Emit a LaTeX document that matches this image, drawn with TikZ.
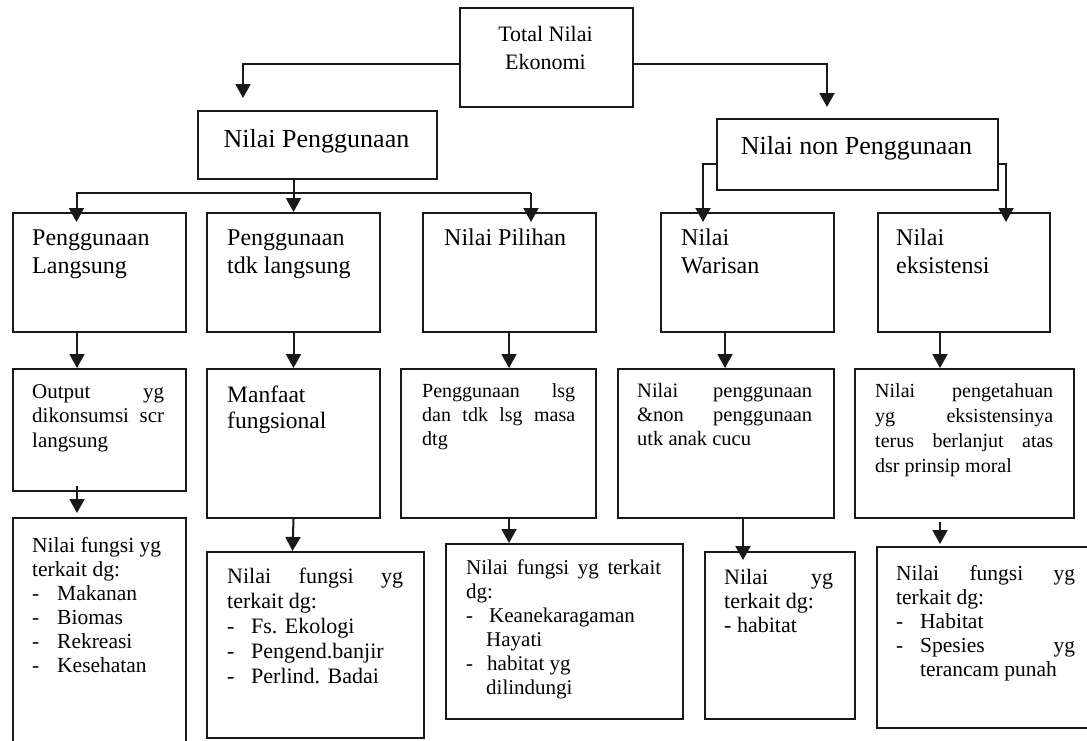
\documentclass[tikz,border=0pt]{standalone}
\usepackage{fontspec}
\setmainfont{Liberation Serif}
\usetikzlibrary{arrows.meta}
\newcommand\tb[4]{\parbox[t]{#1pt}{\fontsize{#2}{#3}\selectfont\raggedright #4}}
\newcommand\itm[2]{\makebox[#1pt][l]{-}#2}
\begin{document}
\begin{tikzpicture}[x=1pt,y=-1pt,
  box/.style={draw=black!90,line width=2pt,rectangle,inner sep=0pt,anchor=north west},
  arr/.style={draw=black!90,line width=2pt,-{Triangle[width=15pt,length=14pt]}},
  txt/.style={inner sep=0pt,anchor=base west,text=black}]
\useasboundingbox (0,0) rectangle (1087,740);
\clip (0,0) rectangle (1087,740);
\fill[white] (0,0) rectangle (1087,740);
% boxes
\node[box,minimum width=173pt,minimum height=99pt] (total) at (459,7) {};
\node[box,minimum width=239pt,minimum height=68pt] (np) at (197,110) {};
\node[box,minimum width=281pt,minimum height=71pt] (nnp) at (716,118) {};
\node[box,minimum width=173pt,minimum height=119pt] (L3a) at (12,212) {};
\node[box,minimum width=173pt,minimum height=119pt] (L3b) at (206,212) {};
\node[box,minimum width=173pt,minimum height=119pt] (L3c) at (422,212) {};
\node[box,minimum width=173pt,minimum height=119pt] (L3d) at (660,212) {};
\node[box,minimum width=172pt,minimum height=119pt] (L3e) at (877,212) {};
\node[box,minimum width=173pt,minimum height=122pt] (L4a) at (12,368) {};
\node[box,minimum width=173pt,minimum height=149pt] (L4b) at (206,368) {};
\node[box,minimum width=195pt,minimum height=149pt] (L4c) at (400,368) {};
\node[box,minimum width=216pt,minimum height=149pt] (L4d) at (617,368) {};
\node[box,minimum width=219pt,minimum height=149pt] (L4e) at (854,368) {};
\node[box,minimum width=173pt,minimum height=240pt] (L5a) at (12,517) {};
\node[box,minimum width=217pt,minimum height=186pt] (L5b) at (206,551) {};
\node[box,minimum width=237pt,minimum height=175pt] (L5c) at (445,543) {};
\node[box,minimum width=150pt,minimum height=167pt] (L5d) at (704,551) {};
\node[box,minimum width=225pt,minimum height=181pt] (L5e) at (876,546) {};
% texts
\node[inner sep=0pt,anchor=base,text=black] (totaltxt) at (545.5,41)
  {\parbox[t]{173pt}{\centering\fontsize{22}{28}\selectfont Total Nilai\\Ekonomi}};
\node[inner sep=0pt,anchor=base,text=black,font=\fontsize{26}{30}\selectfont] (nptxt) at (316.5,147) {Nilai Penggunaan};
\node[inner sep=0pt,anchor=base,text=black,font=\fontsize{26}{30}\selectfont] (nnptxt) at (856.5,154) {Nilai non Penggunaan};
\node[txt] (L3atxt) at (32,245) {\tb{150}{24}{28}{Penggunaan\\Langsung}};
\node[txt] (L3btxt) at (227,245) {\tb{150}{24}{28}{Penggunaan\\tdk langsung}};
\node[txt] (L3ctxt) at (444,245) {\tb{150}{24}{28}{Nilai Pilihan}};
\node[txt] (L3dtxt) at (681,245) {\tb{150}{24}{28}{Nilai\\Warisan}};
\node[txt] (L3etxt) at (896,245) {\tb{150}{24}{28}{Nilai\\eksistensi}};
\node[txt] (L4atxt) at (32,398) {\tb{132}{21}{24.5}{Output\hfill yg\\dikonsumsi\hfill scr\\langsung}};
\node[txt] (L4btxt) at (227,402) {\tb{150}{23.5}{26}{Manfaat\\fungsional}};
\node[txt] (L4ctxt) at (422,397) {\tb{153}{20}{24}{Penggunaan\hfill lsg\\dan\hfill tdk\hfill lsg\hfill masa\\dtg}};
\node[txt] (L4dtxt) at (637,397) {\tb{175}{20.5}{24}{Nilai\hfill penggunaan\\\&non\hfill penggunaan\\utk anak cucu}};
\node[txt] (L4etxt) at (875,397) {\tb{178}{20}{25}{Nilai\hfill pengetahuan\\yg\hfill eksistensinya\\terus\hfill berlanjut\hfill atas\\dsr prinsip moral}};
\node[txt] (L5atxt) at (32,552) {\tb{132}{21.5}{24}{Nilai fungsi yg\\terkait dg:\\\itm{25}{Makanan}\\\itm{25}{Biomas}\\\itm{25}{Rekreasi}\\\itm{25}{Kesehatan}}};
\node[txt] (L5btxt) at (227,583) {\tb{176}{22}{25}{Nilai\hfill fungsi\hfill yg\\terkait dg:\\\itm{24}{Fs. Ekologi}\\\itm{24}{Pengend.banjir}\\\itm{24}{Perlind. Badai}}};
\node[txt] (L5ctxt) at (466,574) {\tb{195}{21}{24}{Nilai\hfill fungsi\hfill yg\hfill terkait\\dg:\\\itm{23}{Keanekaragaman}\\\hspace*{20pt}Hayati\\\itm{21}{habitat yg}\\\hspace*{20pt}dilindungi}};
\node[txt] (L5dtxt) at (724,584) {\tb{109}{22}{24}{Nilai\hfill yg\\terkait dg:\\- habitat}};
\node[txt] (L5etxt) at (896,580) {\tb{179}{21.5}{24}{Nilai\hfill fungsi\hfill yg\\terkait dg:\\\itm{24}{Habitat}\\\itm{24}{Spesies\hfill yg}\\\hspace*{24pt}terancam punah}};
% connector end points
\coordinate (t1) at (243,98);
\coordinate (t2) at (827,107);
\coordinate (bar) at (0,193);
\coordinate (ba) at (76.5,222);
\coordinate (bc) at (531,222);
\coordinate (bd) at (703,222);
\coordinate (be) at (1006,222);
\coordinate (d1) at (77,368);
\coordinate (d3) at (509,368);
\coordinate (d4) at (725,368);
\coordinate (d5) at (940,368);
\coordinate (e1) at (77,513);
\coordinate (e2) at (292.5,551);
\coordinate (e3) at (509,543);
\coordinate (e4) at (743,560);
\coordinate (e5) at (940,544);
% connectors
\draw[arr] ([yshift=-6.5pt]total.west) -| (t1);
\draw[arr] ([yshift=-6.5pt]total.east) -| (t2);
\draw[arr] (L3b.north |- np.south) -- (L3b.north);
\draw[arr] (bc |- bar) -- (ba |- bar) -- (ba);
\draw[arr] (bc |- bar) -- (bc);
\draw[arr] ([yshift=-9.5pt]nnp.west) -| (bd);
\draw[arr] ([yshift=-9.5pt]nnp.east) -| (be);
\draw[arr] (L3a.south -| d1) -- (d1);
\draw[arr] (L3b.south) -- (L4b.north);
\draw[arr] (L3c.south -| d3) -- (d3);
\draw[arr] (L3d.south -| d4) -- (d4);
\draw[arr] (L3e.south -| d5) -- (d5);
\draw[arr] ([yshift=6pt]L4a.south -| e1) -- (e1);
\draw[arr] (L4b.south) -- (e2);
\draw[arr] (L4c.south -| e3) -- (e3);
\draw[arr] (L4d.south -| e4) -- (e4);
\draw[arr] ([yshift=-3pt]L4e.south -| e5) -- (e5);
\end{tikzpicture}
\end{document}
